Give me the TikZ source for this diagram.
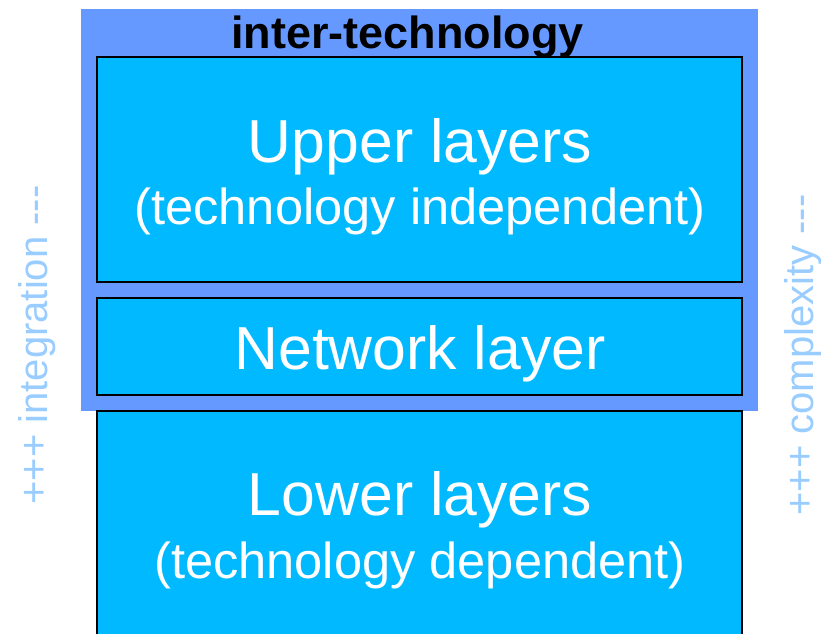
\documentclass[tikz,border=0pt]{standalone}
\usepackage{fontspec}
\setmainfont{Liberation Sans}[Ligatures=NoCommon]
\definecolor{bgblue}{RGB}{102,153,255}
\definecolor{boxblue}{RGB}{0,185,255}
\definecolor{sideblue}{RGB}{153,204,255}
\tikzset{
  layerbox/.style={draw=black, line width=1.5bp, fill=boxblue, inner sep=0pt},
  bigtxt/.style={text=white, anchor=base, inner sep=0pt, font=\fontsize{60.7bp}{70bp}\selectfont},
  smalltxt/.style={text=white, anchor=base, inner sep=0pt, font=\fontsize{50.6bp}{60bp}\selectfont},
  sidetxt/.style={text=sideblue, anchor=base, inner sep=0pt, rotate=90, font=\fontsize{40bp}{48bp}\selectfont},
}
\begin{document}
\begin{tikzpicture}[x=1bp, y=-1bp]
\useasboundingbox (0,0) rectangle (821,634);
\clip (0,0) rectangle (821,634);
% background inter-technology area
\node[fill=bgblue, inner sep=0pt, minimum width=677bp, minimum height=402bp] (bg) at (419.5,210) {};
\node[anchor=base, inner sep=0pt, font=\bfseries\fontsize{45bp}{54bp}\selectfont] (title) at (407.5,49) {inter-technology};
% boxes
\node[layerbox, minimum width=645bp, minimum height=225bp] (upper) at (419.5,169.5) {};
\node[layerbox, minimum width=645bp, minimum height=97bp] (network) at (419.5,346.5) {};
\node[layerbox, minimum width=645bp, minimum height=240bp] (lower) at (419.5,531) {};
% texts
\node[bigtxt] (t1) at (420,163) {Upper layers};
\node[smalltxt] (t2) at (420,225) {(technology independent)};
\node[bigtxt] (t3) at (420,369) {Network layer};
\node[bigtxt] (t4) at (420,515) {Lower layers};
\node[smalltxt] (t5) at (420,578) {(technology dependent)};
% side texts
\node[sidetxt] (s1) at (47,345) {+++ integration -{}-{}-};
\node[sidetxt] (s2) at (813,355) {+++ complexity -{}-{}-};
\end{tikzpicture}
\end{document}
